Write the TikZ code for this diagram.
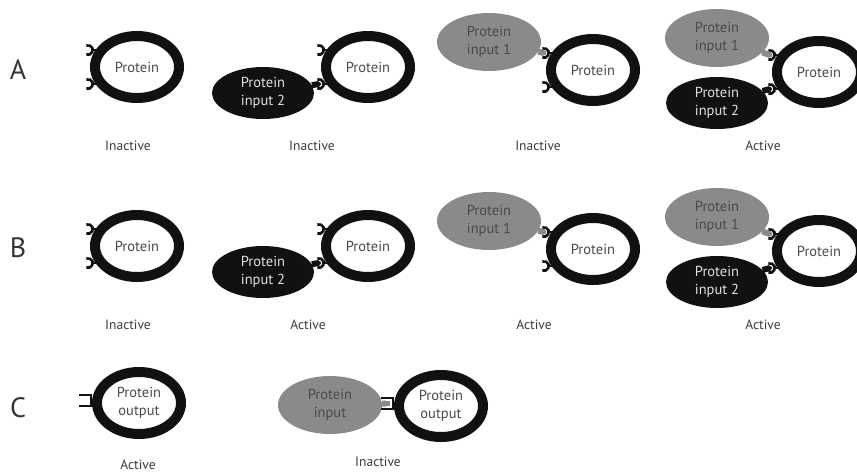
\documentclass[tikz,border=0pt]{standalone}
\usepackage{fontspec}
\setmainfont{PT Sans}
\usetikzlibrary{shapes.geometric,calc}
\definecolor{ink}{HTML}{111111}
\definecolor{liggray}{HTML}{8A8A8A}
\definecolor{txtgray}{HTML}{4A4A4A}
\definecolor{lbl}{HTML}{3A3A3A}
\newcommand\recHooks[1]{%
  \draw[cupline] ($(#1.center)+(-49,-17)$) ++(110:4.8pt) arc[start angle=110,end angle=-110,radius=4.8pt];
  \draw[cupline] ($(#1.center)+(-44.2,-17)$) -- ($(#1.center)+(-40,-17)$);
  \draw[cupline] ($(#1.center)+(-49,17)$) ++(110:4.8pt) arc[start angle=110,end angle=-110,radius=4.8pt];
  \draw[cupline] ($(#1.center)+(-44.2,17)$) -- ($(#1.center)+(-40,17)$);
}
\newcommand\recBracket[1]{%
  \draw[cupline,line join=miter] ($(#1.center)+(-60,-8)$) -- ($(#1.center)+(-48,-8)$) -- ($(#1.center)+(-48,3)$) -- ($(#1.center)+(-60,3)$);
}
\begin{document}
\begin{tikzpicture}[x=1pt,y=-1pt,
  rec/.style={ellipse,draw=ink,line width=10pt,fill=white,minimum width=84pt,minimum height=62pt,inner sep=0pt,text=txtgray,align=center,font=\fontsize{14.5}{18}\selectfont},
  ligA/.style={ellipse,fill=liggray,minimum width=104pt,minimum height=58pt,inner sep=0pt,text=txtgray,align=center,font=\fontsize{14.5}{18}\selectfont},
  ligB/.style={ellipse,fill=ink,minimum width=102pt,minimum height=52pt,inner sep=0pt,text=white!88!black,align=center,font=\fontsize{14.5}{18}\selectfont},
  stat/.style={text=lbl,font=\fontsize{13.5}{16}\selectfont},
  rowlbl/.style={text=ink!85,font=\fontsize{28}{30}\selectfont},
  cupline/.style={draw=ink,line width=2.6pt},
  neckA/.style={draw=liggray,line width=6pt},
  neckB/.style={draw=ink,line width=6pt},
]
\useasboundingbox (0,0) rectangle (857,472);

% ---------- Row A ----------
\node[rowlbl] (la) at (18,70) {A};

\node[rec] (a1) at (137,67) {Protein};
\recHooks{a1}
\node[stat] (sa1) at (128,146) {Inactive};

\node[ligB] (a2l) at (263,93) {Protein\\input 2};
\node[rec] (a2) at (368,67) {Protein};
\recHooks{a2}
\coordinate (a2k) at ($(a2.center)+(-49,17)$);
\draw[neckB] (a2l) -- (a2k);
\fill[ink] (a2k) circle[radius=2pt];
\node[stat] (sa2) at (312,146) {Inactive};

\node[ligA] (a3l) at (489,42) {Protein\\input 1};
\node[rec] (a3) at (593,70) {Protein};
\recHooks{a3}
\coordinate (a3k) at ($(a3.center)+(-49,-17)$);
\draw[neckA] (a3l) -- (a3k);
\fill[liggray] (a3k) circle[radius=2.4pt];
\node[stat] (sa3) at (538,146) {Inactive};

\node[ligA] (a4g) at (717,38) {Protein\\input 1};
\node[ligB] (a4b) at (717,103) {Protein\\input 2};
\node[rec] (a4) at (819,72) {Protein};
\recHooks{a4}
\coordinate (a4kg) at ($(a4.center)+(-49,-17)$);
\coordinate (a4kb) at ($(a4.center)+(-49,17)$);
\draw[neckA] (a4g) -- (a4kg);
\fill[liggray] (a4kg) circle[radius=2.4pt];
\draw[neckB] (a4b) -- (a4kb);
\fill[ink] (a4kb) circle[radius=2pt];
\node[stat] (sa4) at (763,146) {Active};

% ---------- Row B ----------
\node[rowlbl] (lb) at (18,248) {B};

\node[rec] (b1) at (137,246) {Protein};
\recHooks{b1}
\node[stat] (sb1) at (128,325) {Inactive};

\node[ligB] (b2l) at (263,272) {Protein\\input 2};
\node[rec] (b2) at (368,246) {Protein};
\recHooks{b2}
\coordinate (b2k) at ($(b2.center)+(-49,17)$);
\draw[neckB] (b2l) -- (b2k);
\fill[ink] (b2k) circle[radius=2pt];
\node[stat] (sb2) at (308,325) {Active};

\node[ligA] (b3l) at (489,221) {Protein\\input 1};
\node[rec] (b3) at (593,249) {Protein};
\recHooks{b3}
\coordinate (b3k) at ($(b3.center)+(-49,-17)$);
\draw[neckA] (b3l) -- (b3k);
\fill[liggray] (b3k) circle[radius=2.4pt];
\node[stat] (sb3) at (534,325) {Active};

\node[ligA] (b4g) at (717,217) {Protein\\input 1};
\node[ligB] (b4b) at (717,282) {Protein\\input 2};
\node[rec] (b4) at (819,251) {Protein};
\recHooks{b4}
\coordinate (b4kg) at ($(b4.center)+(-49,-17)$);
\coordinate (b4kb) at ($(b4.center)+(-49,17)$);
\draw[neckA] (b4g) -- (b4kg);
\fill[liggray] (b4kg) circle[radius=2.4pt];
\draw[neckB] (b4b) -- (b4kb);
\fill[ink] (b4kb) circle[radius=2pt];
\node[stat] (sb4) at (763,325) {Active};

% ---------- Row C ----------
\node[rowlbl] (lc) at (18,408) {C};

\node[rec] (c1) at (139,403) {Protein\\output};
\recBracket{c1}
\node[stat] (sc1) at (138,465) {Active};

\node[ligA] (c2l) at (330,405) {Protein\\input};
\node[rec] (c2) at (441,406) {Protein\\output};
\recBracket{c2}
\coordinate (c2k) at ($(c2.center)+(-55,-2.5)$);
\draw[neckA,line width=6pt] (c2l) -- (c2k);
\fill[liggray] ($(c2k)+(-3.5,-2.6)$) rectangle ($(c2k)+(3.5,2.6)$);
\node[stat] (sc2) at (378,462) {Inactive};
\end{tikzpicture}
\end{document}
